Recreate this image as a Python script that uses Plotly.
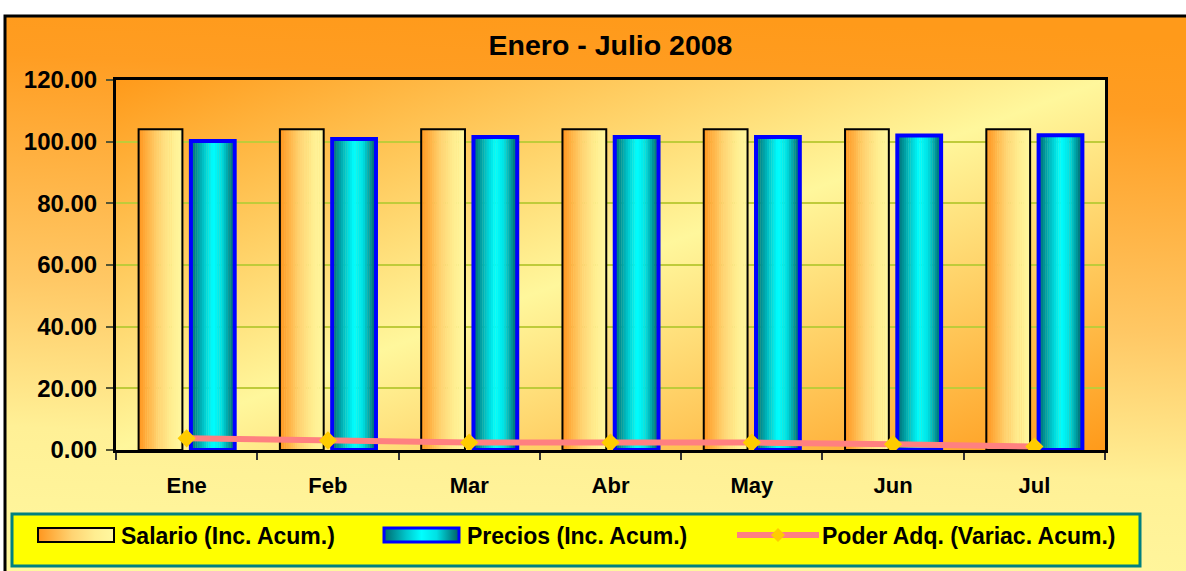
import base64
import plotly.graph_objects as go

# data
meses = ["Ene", "Feb", "Mar", "Abr", "May", "Jun", "Jul"]
salario = [104.0, 104.0, 104.0, 104.0, 104.0, 104.0, 104.0]
precios = [100.2, 100.9, 101.5, 101.5, 101.5, 102.0, 102.1]
poder_adq = [3.8, 3.1, 2.4, 2.4, 2.4, 1.9, 1.1]

nombres = ["Salario (Inc. Acum.)", "Precios (Inc. Acum.)", "Poder Adq. (Variac. Acum.)"]
titulo = "Enero - Julio 2008"

FONT = "Arial, Liberation Sans, sans-serif"
W, H = 1186, 571
ML, MR, MT, MB = 116, 81, 80, 121
PW, PH = W - ML - MR, H - MT - MB

x = list(range(len(meses)))


def px(xp):
    return (xp - ML) / PW


def py(yp):
    return (H - MB - yp) / PH


def grad_uri(stops, x1=0, y1=0, x2=1, y2=0):
    s = "".join(f'<stop offset="{o}" stop-color="{c}"/>' for o, c in stops)
    svg = (f'<svg xmlns="http://www.w3.org/2000/svg" width="100" height="100" '
           f'viewBox="0 0 100 100" preserveAspectRatio="none"><defs>'
           f'<linearGradient id="g" x1="{x1}" y1="{y1}" x2="{x2}" y2="{y2}">{s}</linearGradient>'
           f'</defs><rect width="100" height="100" fill="url(#g)"/></svg>')
    return "data:image/svg+xml;base64," + base64.b64encode(svg.encode()).decode()


def interp(stops, t):
    for (o0, c0), (o1, c1) in zip(stops, stops[1:]):
        if o0 <= t <= o1:
            f = (t - o0) / (o1 - o0) if o1 > o0 else 0
            c = [round(a + (b - a) * f) for a, b in zip(c0, c1)]
            return f"rgb({c[0]},{c[1]},{c[2]})"
    c = stops[-1][1]
    return f"rgb({c[0]},{c[1]},{c[2]})"


sal_stops = [(0, (255, 150, 30)), (0.45, (255, 212, 115)), (0.75, (255, 238, 145)), (1, (255, 248, 160))]
pre_stops = [(0, (0, 105, 110)), (0.3, (0, 200, 205)), (0.5, (0, 255, 255)), (0.7, (0, 225, 228)), (1, (0, 95, 100))]


def hexs(stops):
    return [(o, "#%02x%02x%02x" % c) for o, c in stops]


fig = go.Figure()

BW = 0.31
NS = 20
series = [
    (salario, -0.34, sal_stops, "#000000", 2),
    (precios, 0.03, pre_stops, "#0000ff", 4),
]
for vals, off, stops, lc, lw in series:
    for k in range(NS):
        fig.add_trace(go.Bar(
            x=x, y=vals, offset=off + k * BW / NS, width=BW / NS * 1.15,
            marker=dict(color=interp(stops, (k + 0.5) / NS), line=dict(width=0)),
            showlegend=False, hoverinfo="skip"))
    fig.add_trace(go.Bar(
        x=x, y=vals, offset=off, width=BW,
        marker=dict(color="rgba(0,0,0,0)", line=dict(color=lc, width=lw)),
        showlegend=False))

fig.add_trace(go.Scatter(
    x=x, y=poder_adq, mode="lines+markers", name=nombres[2],
    line=dict(color="#ff8080", width=6),
    marker=dict(symbol="diamond", size=14, color="#ffcc00"),
    showlegend=False))

images = [
    # outer chart area
    dict(source=grad_uri([(0, "#ff9a1a"), (0.12, "#ff9d22"), (0.5, "#ffc865"),
                          (0.75, "#fff096"), (1, "#fff89e")], 0.55, 0, 0.45, 1),
         x=px(4), y=py(15), sizex=px(1200) - px(4), sizey=py(15) - py(600)),
    # plot area
    dict(source=grad_uri([(0, "#ff9a1a"), (0.5, "#fff79c"), (1, "#ff9a1a")], 0, 0, 1, 1),
         x=0, y=1, sizex=1, sizey=1),
]
for im in images:
    im.update(xref="paper", yref="paper", xanchor="left", yanchor="top",
              sizing="stretch", layer="below")

# legend symbols
ly = 535
images += [
    dict(source=grad_uri(hexs(sal_stops)), x=px(38), y=py(ly - 7), sizex=px(114) - px(38),
         sizey=14 / PH),
    dict(source=grad_uri(hexs(pre_stops)), x=px(384), y=py(ly - 7), sizex=px(459) - px(384),
         sizey=14 / PH),
]
for im in images[2:]:
    im.update(xref="paper", yref="paper", xanchor="left", yanchor="top",
              sizing="stretch", layer="above")

dcx, dcy, dr = 778, ly, 7
diamond = (f"M {px(dcx - dr)} {py(dcy)} L {px(dcx)} {py(dcy - dr)} "
           f"L {px(dcx + dr)} {py(dcy)} L {px(dcx)} {py(dcy + dr)} Z")

shapes = [
    dict(type="rect", xref="paper", yref="paper", x0=px(5), x1=px(1200), y0=py(16), y1=py(600),
         line=dict(color="black", width=3), layer="below"),
    dict(type="rect", xref="paper", yref="paper", x0=px(12), x1=px(1140), y0=py(514), y1=py(566),
         fillcolor="#ffff00", line=dict(color="#008080", width=3), layer="below"),
    dict(type="rect", xref="paper", yref="paper", x0=px(38), x1=px(114), y0=py(ly - 7), y1=py(ly + 7),
         line=dict(color="black", width=2), layer="above"),
    dict(type="rect", xref="paper", yref="paper", x0=px(384), x1=px(459), y0=py(ly - 7), y1=py(ly + 7),
         line=dict(color="#0000ff", width=3), layer="above"),
    dict(type="line", xref="paper", yref="paper", x0=px(737), x1=px(819), y0=py(ly), y1=py(ly),
         line=dict(color="#ff8080", width=6), layer="above"),
    dict(type="path", xref="paper", yref="paper", path=diamond, fillcolor="#ffcc00",
         line=dict(width=0), layer="above"),
]

annotations = [
    dict(text=t, xref="paper", yref="paper", x=px(xp), y=py(ly + 1), xanchor="left", yanchor="middle",
         showarrow=False, font=dict(family=FONT, size=23, color="black", weight="bold"))
    for t, xp in zip(nombres, [119, 465, 820])
]

fig.update_layout(
    width=W, height=H,
    margin=dict(l=ML, r=MR, t=MT, b=MB),
    paper_bgcolor="white", plot_bgcolor="rgba(0,0,0,0)",
    barmode="overlay",
    title=dict(text=titulo, x=0.5, xref="paper", xanchor="center", y=1 - 45 / H, yanchor="middle",
               font=dict(family=FONT, size=28.5, color="black", weight="bold")),
    xaxis=dict(range=[-0.5, len(meses) - 0.5], tickvals=x, ticktext=meses, ticks="",
               showline=True, linecolor="black", linewidth=3, mirror=True,
               showgrid=False, zeroline=False, ticklabelstandoff=14,
               minor=dict(tick0=-0.5, dtick=1, ticks="outside", ticklen=7, tickcolor="#333333",
                          tickwidth=1.5, showgrid=False),
               tickfont=dict(family=FONT, size=22, color="black", weight="bold")),
    yaxis=dict(range=[0, 120], dtick=20, tickformat=".2f", ticks="outside", ticklen=7,
               tickcolor="#555533", tickwidth=1.5,
               showline=True, linecolor="black", linewidth=3, mirror=True,
               showgrid=True, gridcolor="#bfcb3a", gridwidth=1.5, zeroline=False,
               ticklabelstandoff=4,
               tickfont=dict(family=FONT, size=24, color="black", weight="bold")),
    images=images, shapes=shapes, annotations=annotations,
)

fig.write_html("out.html", config={"displayModeBar": False},
               post_script="document.body.style.margin='0';")
